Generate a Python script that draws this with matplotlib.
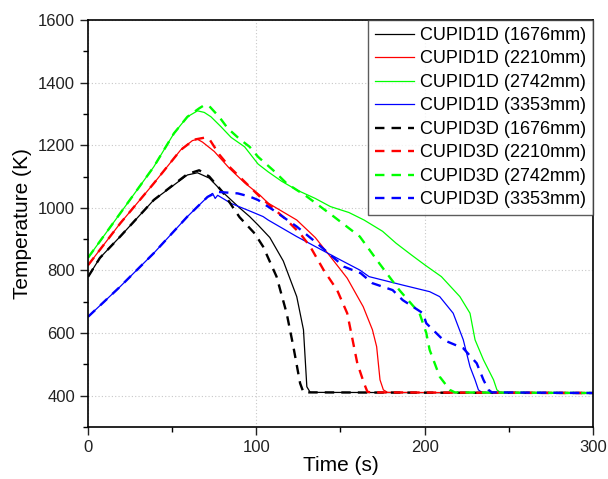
import matplotlib.pyplot as plt
from matplotlib.ticker import MultipleLocator

plt.rcParams['font.family'] = ['Liberation Sans', 'DejaVu Sans']

# time (s) / temperature (K)
t_1d_1676 = [0, 7, 19, 39, 51, 59, 65, 72, 80, 90, 96, 101, 108, 116, 124, 128, 130, 132, 300]
T_1d_1676 = [780, 840, 908, 1025, 1073, 1105, 1112, 1095, 1050, 1000, 972, 945, 905, 830, 716, 610, 428, 410, 408]

t_1d_2210 = [0, 19, 39, 55, 62, 65, 68, 75, 84, 93, 102, 107, 124, 135, 144, 154, 163.5, 169, 171.5, 173.5, 175.5, 178, 300]
T_1d_2210 = [817, 950, 1078, 1185, 1215, 1219, 1210, 1180, 1126, 1080, 1041, 1015, 961, 905, 844, 775, 684, 610, 556, 450, 418, 410, 408]

t_1d_2742 = [0, 19, 39, 51, 59, 65, 69, 73, 79, 85, 93, 101, 107, 115, 124, 135, 144, 155, 164, 175, 183, 192, 200, 210, 221, 227, 230, 235, 241, 243, 245, 300]
T_1d_2742 = [841, 982, 1131, 1238, 1291, 1310, 1305, 1291, 1259, 1225, 1195, 1140, 1115, 1085, 1057, 1030, 1004, 985, 961, 925, 887, 850, 818, 780, 716, 663, 578, 514, 450, 418, 410, 408]

t_1d_3353 = [0, 19, 39, 59, 71, 74, 75.5, 77, 85, 96, 104, 107, 124, 148, 161.5, 167, 187, 203, 209, 217, 223, 227, 230, 232, 234, 300]
T_1d_3353 = [652, 748, 855, 972, 1035, 1046, 1030, 1040, 1014, 990, 972, 961, 908, 839, 801, 780, 753, 732, 716, 663, 578, 492, 450, 418, 410, 408]

t_3d_1676 = [0, 7, 19, 39, 51, 59, 66, 72, 80, 90, 99, 104, 112, 118, 122, 126, 128, 300]
T_3d_1676 = [780, 840, 908, 1025, 1075, 1108, 1120, 1100, 1050, 970, 918, 876, 780, 663, 556, 439, 410, 408]

t_3d_2210 = [0, 19, 39, 55, 63, 69, 72, 78, 84, 102, 118, 126, 132, 140, 148, 154, 156, 160, 164, 166, 168, 300]
T_3d_2210 = [817, 950, 1078, 1185, 1218, 1224, 1220, 1170, 1131, 1036, 961, 918, 876, 801, 737, 663, 610, 503, 439, 412, 410, 408]

t_3d_2742 = [0, 19, 39, 51, 59, 66, 69, 72, 78, 83, 90, 96, 101, 110, 118, 130, 146, 161.5, 173, 185, 197, 201, 203, 209, 215, 218, 300]
T_3d_2742 = [841, 982, 1131, 1238, 1291, 1318, 1328, 1325, 1290, 1254, 1220, 1195, 1163, 1120, 1078, 1036, 972, 908, 823, 737, 663, 600, 546, 460, 418, 410, 408]

t_3d_3353 = [0, 19, 39, 59, 71, 77, 89, 96, 101, 110, 124, 136, 152, 162, 169, 181, 187, 199, 201, 211, 223, 231, 235, 238, 240, 300]
T_3d_3353 = [652, 748, 855, 972, 1035, 1051, 1046, 1036, 1025, 993, 940, 887, 812, 791, 759, 737, 705, 663, 631, 578, 551, 503, 450, 418, 410, 408]

fig = plt.figure(figsize=(6.08, 4.79), dpi=100)
ax = fig.add_axes([0.145, 0.109, 0.830, 0.849])

ax.plot(t_1d_1676, T_1d_1676, color='black', lw=0.9, label='CUPID1D (1676mm)')
ax.plot(t_1d_2210, T_1d_2210, color='red', lw=0.9, label='CUPID1D (2210mm)')
ax.plot(t_1d_2742, T_1d_2742, color='#00ff00', lw=0.9, label='CUPID1D (2742mm)')
ax.plot(t_1d_3353, T_1d_3353, color='blue', lw=0.9, label='CUPID1D (3353mm)')
ax.plot(t_3d_1676, T_3d_1676, color='black', lw=1.7, dashes=(4, 3), label='CUPID3D (1676mm)')
ax.plot(t_3d_2210, T_3d_2210, color='red', lw=1.7, dashes=(4, 3), label='CUPID3D (2210mm)')
ax.plot(t_3d_2742, T_3d_2742, color='#00ff00', lw=1.7, dashes=(4, 3), label='CUPID3D (2742mm)')
ax.plot(t_3d_3353, T_3d_3353, color='blue', lw=1.7, dashes=(4, 3), label='CUPID3D (3353mm)')

ax.set_xlim(0, 300)
ax.set_ylim(300, 1600)
ax.xaxis.set_major_locator(MultipleLocator(100))
ax.xaxis.set_minor_locator(MultipleLocator(50))
ax.yaxis.set_major_locator(MultipleLocator(200))
ax.yaxis.set_minor_locator(MultipleLocator(100))
ax.set_yticks([400, 600, 800, 1000, 1200, 1400, 1600])
ax.tick_params(which='major', direction='out', length=6, width=1, labelsize=12, colors='#222222')
ax.tick_params(which='minor', direction='out', length=3.5, width=1)
for s in ax.spines.values():
    s.set_linewidth(1.2)
ax.grid(which='major', color='#c8c8c8', linestyle=(0, (1, 2)), linewidth=0.8)
ax.set_axisbelow(True)

ax.set_xlabel('Time (s)', fontsize=15, labelpad=1)
ax.set_ylabel('Temperature (K)', fontsize=15, labelpad=4)

leg = ax.legend(loc='upper right', fontsize=13, frameon=True, fancybox=False,
                borderaxespad=0.0, labelspacing=0.36, handlelength=2.2,
                handletextpad=0.3, borderpad=0.38)
leg.get_frame().set_edgecolor('#333333')
leg.get_frame().set_linewidth(1.0)

plt.savefig('out.png', dpi=100)
